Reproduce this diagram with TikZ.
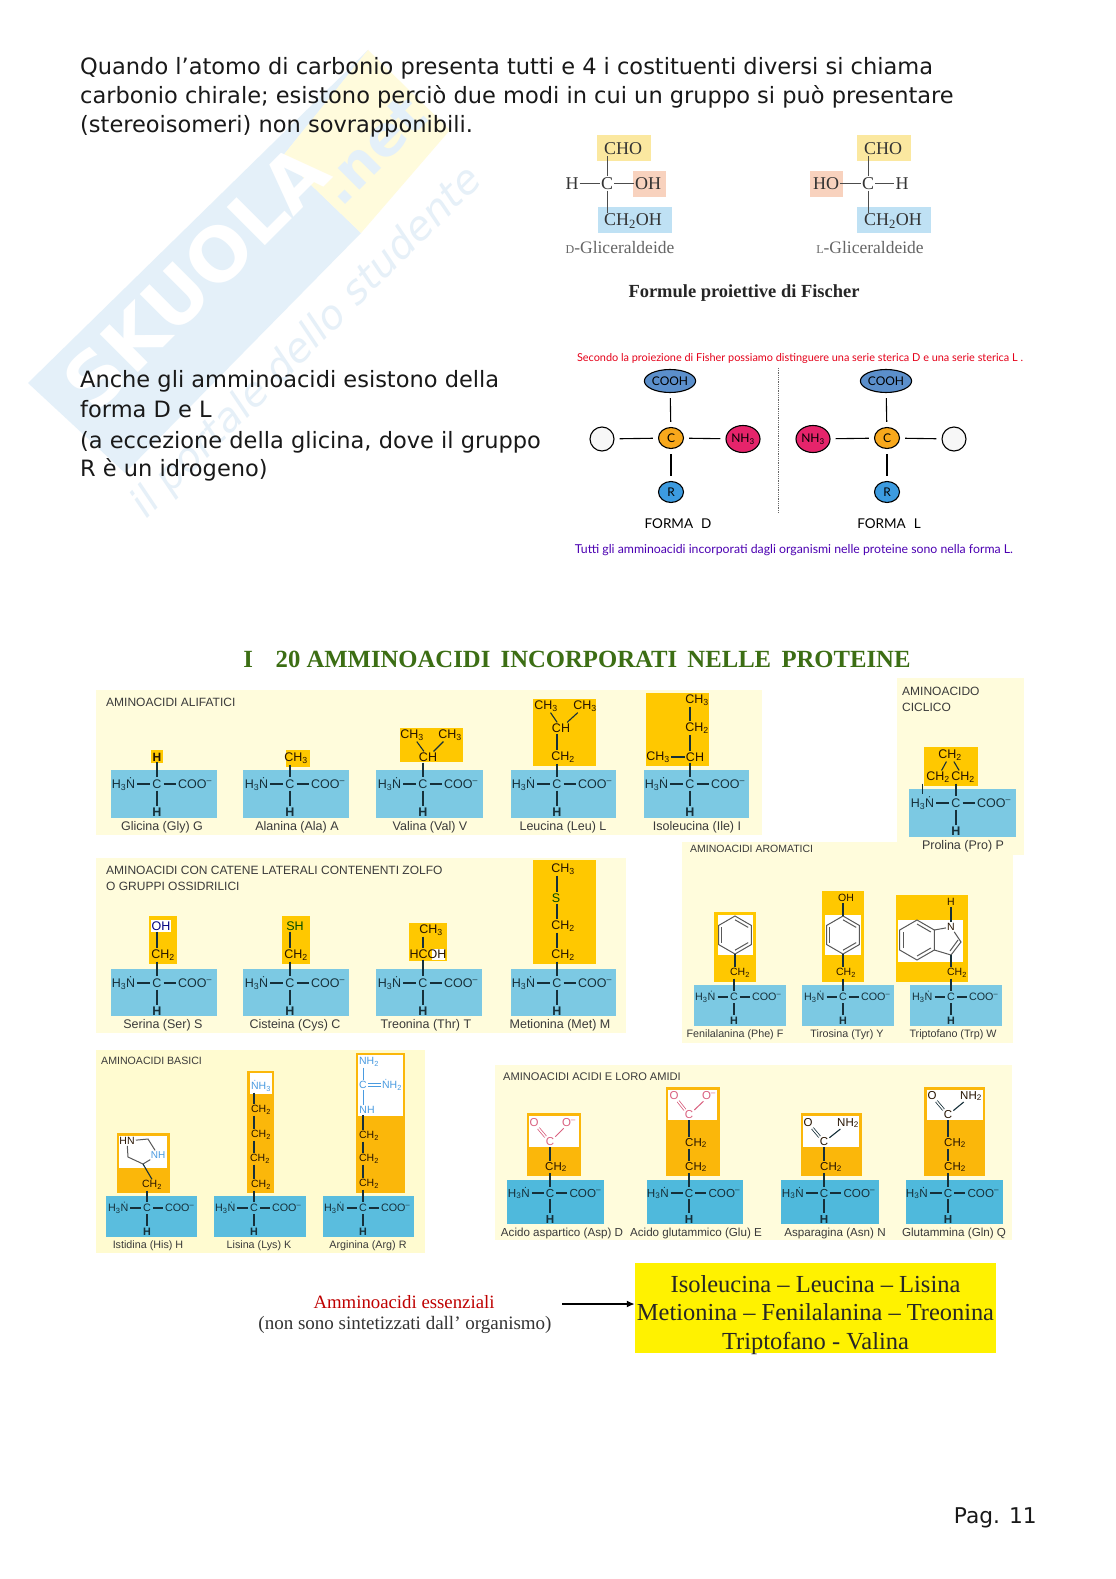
\documentclass[tikz,border=0pt]{standalone}
\usepackage{fontspec}
\usepackage{graphicx}
\setmainfont{Liberation Sans}
\newfontfamily\dejav{DejaVu Sans}
\newfontfamily\serifl{Liberation Serif}
\newfontfamily\comic{Lato}
\usetikzlibrary{shapes.geometric,arrows.meta}
\definecolor{panel}{HTML}{FFFCDC}
\definecolor{panelb}{HTML}{FFFBD0}
\definecolor{bluea}{HTML}{7CC9E3}
\definecolor{blueb}{HTML}{4FB9DC}
\definecolor{orangea}{HTML}{FFC800}
\definecolor{orangeb}{HTML}{FBB70A}
\definecolor{ink}{HTML}{16303A}
\definecolor{labelc}{HTML}{3A3A3A}
\definecolor{nblue}{HTML}{4A9BE0}
\definecolor{opink}{HTML}{D9607F}
\definecolor{wmblue}{HTML}{E4F0F9}
\definecolor{wmyellow}{HTML}{FFFBDC}
\definecolor{wmtext}{HTML}{E6F0F8}
\definecolor{chovell}{HTML}{FBE8A0}
\definecolor{ohbg}{HTML}{F8D2BE}
\definecolor{chbg}{HTML}{BFE1F4}
\definecolor{ttlgreen}{HTML}{3C6E14}
\tikzset{
 atom/.style={inner sep=2pt,text=ink,font=\fontsize{12}{12}\selectfont},
 grpt/.style={inner sep=1pt,text=black!85!orange,font=\fontsize{12.5}{12.5}\selectfont},
 nblu/.style={grpt,text=nblue},
 opk/.style={grpt,text=opink},
 bond/.style={draw=ink,line width=1.1pt},
 ring/.style={draw=black!65,line width=1pt},
 lab/.style={inner sep=0pt,text=labelc,font=\fontsize{12}{12}\selectfont},
 head/.style={inner sep=0pt,anchor=west,text=labelc,font=\fontsize{12}{13}\selectfont},
 body/.style={inner sep=0pt,anchor=west,font=\dejav\fontsize{22.5}{23}\selectfont,text=black!90},
 fis/.style={inner sep=1pt,font=\serifl\fontsize{18}{18}\selectfont,text=black!80},
 fisb/.style={draw=black!70,line width=.9pt},
 fcap/.style={inner sep=0pt,font=\serifl\fontsize{17.5}{17.5}\selectfont,text=black!60},
 ball/.style={ellipse,draw=black,line width=1.1pt,inner sep=0pt,font=\comic\fontsize{12}{12}\selectfont},
 fbond/.style={draw=black,line width=1.1pt},
 yel/.style={inner sep=0pt,font=\serifl\fontsize{24.5}{25}\selectfont,text=black!85},
}
\newcommand{\amino}[9]{%
 \pgfmathsetmacro\ut{#3-14*#6}\pgfmathsetmacro\ub{#3+#7}%
 \pgfmathsetmacro\xn{#2-33.5*#6}\pgfmathsetmacro\xo{#2+38*#6}%
 \pgfmathsetmacro\yh{#3+28*#6}\pgfmathsetmacro\yl{\ub+9}%
 \pgfmathsetmacro\fs{12.5*#6}%
 \fill[\bluefill] (#4,\ut) rectangle (#5,\ub);
 \node[atom,font=\fontsize{\fs}{\fs}\selectfont] (#1-n) at (\xn,#3) {H\textsubscript{3}\.N};
 \node[atom,font=\fontsize{\fs}{\fs}\selectfont] (#1-c) at (#2,#3) {C};
 \node[atom,font=\fontsize{\fs}{\fs}\selectfont] (#1-o) at (\xo,#3) {COO\textsuperscript{–}};
 \node[atom,font=\fontsize{\fs}{\fs}\selectfont\bfseries] (#1-h) at (#2,\yh) {H};
 \node[lab,font=\fontsize{\fs}{\fs}\selectfont] (#1-l) at (#8,\yl) {#9};
 \draw[bond] (#1-n) -- (#1-c);
 \draw[bond] (#1-c) -- (#1-o);
 \draw[bond] (#1-c) -- (#1-h);
}
\newcommand{\vb}[3]{\draw[bond] (#1.south -| #3.center) -- (#2.north -| #3.center);}
\newcommand{\benz}[3]{%
 \draw[ring] ([shift={(#1,#2)}]30:#3) -- ([shift={(#1,#2)}]90:#3) -- ([shift={(#1,#2)}]150:#3) -- ([shift={(#1,#2)}]210:#3) -- ([shift={(#1,#2)}]270:#3) -- ([shift={(#1,#2)}]330:#3) -- cycle;
 \foreach \a/\b in {30/90,150/210,270/330}{\draw[ring] ([shift={(#1,#2)}]\a:0.8*#3) -- ([shift={(#1,#2)}]\b:0.8*#3);}%
}
\newcommand{\bluefill}{bluea}
\begin{document}
\begin{tikzpicture}[x=1pt,y=-1pt]
\useasboundingbox[fill=white] (0,0) rectangle (1116,1579);
% watermark
\fill[wmblue] (28,383) -- (368,50) -- (282,157) -- (361,233) -- (125,473) -- cycle;
\fill[wmyellow] (368,50) -- (450,130) -- (361,233) -- (282,157) -- cycle;
\node[rotate=45,inner sep=0pt,text=white,font=\dejav\bfseries\fontsize{74}{74}\selectfont] (wmk) at (196,277) {SKUOLA};
\node[rotate=45,inner sep=0pt,text=wmblue,font=\dejav\bfseries\fontsize{56}{56}\selectfont] (wmn) at (372,150) {.net};
\node[rotate=45,inner sep=0pt,text=wmtext,font=\dejav\itshape\fontsize{40}{40}\selectfont] (wmt) at (307,343) {\resizebox{477pt}{!}{il portale dello studente}};
% top text
\node[body] (t1) at (80,68) {Quando l’atomo di carbonio presenta tutti e 4 i costituenti diversi si chiama};
\node[body] (t2) at (80,97) {carbonio chirale; esistono perciò due modi in cui un gruppo si può presentare};
\node[body] (t3) at (80,126) {(stereoisomeri) non sovrapponibili.};
\node[body] (t4) at (80,381) {Anche gli amminoacidi esistono della};
\node[body] (t5) at (80,409) {forma D e L};
\node[body] (t6) at (80,442) {(a eccezione della glicina, dove il gruppo};
\node[body] (t7) at (80,470) {R è un idrogeno)};
\node[body,anchor=east,font=\dejav\fontsize{21.7}{22}\selectfont] (pg) at (1037,1518) {Pag. 11};
% Fischer glyceraldehyde
\fill[chovell] (597,135) rectangle (651,161);
\fill[ohbg] (633,171) rectangle (666,197);
\fill[chbg] (598,207) rectangle (672,233);
\fill[chovell] (857,135) rectangle (911,161);
\fill[ohbg] (810,171) rectangle (843,197);
\fill[chbg] (857,207) rectangle (931,233);
\node[fis] (dcho) at (623,148.5) {CHO};
\node[fis] (dh) at (572,183.5) {H};
\node[fis] (dc) at (607,183.5) {C};
\node[fis] (doh) at (648,183.5) {OH};
\node[fis] (dch) at (633,221) {CH\textsubscript{2}OH};
\node[fis] (lcho) at (883,148.5) {CHO};
\node[fis] (lho) at (826,183.5) {HO};
\node[fis] (lc) at (868,183.5) {C};
\node[fis] (lh) at (902,183.5) {H};
\node[fis] (lch) at (893,221) {CH\textsubscript{2}OH};
\draw[fisb] (dh) -- (dc);\draw[fisb] (dc) -- (doh);
\draw[fisb] (dc) -- (dc |- dcho.south);\draw[fisb] (dc) -- (dc |- dch.north);
\draw[fisb] (lho) -- (lc);\draw[fisb] (lc) -- (lh);
\draw[fisb] (lc) -- (lc |- lcho.south);\draw[fisb] (lc) -- (lc |- lch.north);
\node[fcap] (dg) at (620,247.5) {{\fontsize{12}{12}\selectfont D}-Gliceraldeide};
\node[fcap] (lg) at (870,247.5) {{\fontsize{12}{12}\selectfont L}-Gliceraldeide};
\node[inner sep=0pt,font=\serifl\bfseries\fontsize{17}{17}\selectfont,text=black!85] (fpf) at (744,293) {\resizebox{231pt}{!}{Formule proiettive di Fischer}};
% D / L forms
\node[inner sep=0pt,text=red!60!purple,font=\comic] (c1) at (800,358) {\resizebox{446pt}{!}{Secondo la proiezione di Fisher possiamo distinguere una serie sterica D e una serie sterica L .}};
\node[inner sep=0pt,text=blue!60!purple,font=\comic] (c2) at (794,550) {\resizebox{438pt}{!}{Tutti gli amminoacidi incorporati dagli organismi nelle proteine sono nella forma L.}};
\coordinate (dv1) at (778,368);\coordinate (dv2) at (778,513);
\draw[black!60,densely dotted,line width=.8pt] (dv1) -- (dv2);
\definecolor{fb}{HTML}{5B8FCB}\definecolor{fo}{HTML}{F8A81C}\definecolor{fp}{HTML}{E6246B}\definecolor{fr}{HTML}{3C9BE0}
\node[ball,fill=fb,minimum width=48pt,minimum height=23pt] (dcooh) at (670,381) {COOH};
\node[ball,fill=fo,minimum width=25pt,minimum height=21pt] (dcc) at (671,438) {C};
\node[ball,fill=black!3,minimum width=24pt,minimum height=24pt] (dw) at (602,439) {};
\node[ball,fill=fp,minimum width=34pt,minimum height=27pt] (dnh) at (743,439) {NH\textsubscript{3}};
\node[ball,fill=fr,minimum width=25pt,minimum height=21pt] (dr) at (671,492) {R};
\node[ball,fill=fb,minimum width=48pt,minimum height=23pt] (lcooh) at (886,381) {COOH};
\node[ball,fill=fo,minimum width=25pt,minimum height=21pt] (lcc) at (887,438) {C};
\node[ball,fill=black!3,minimum width=24pt,minimum height=24pt] (lw) at (954,439) {};
\node[ball,fill=fp,minimum width=34pt,minimum height=27pt] (lnh) at (813,439) {NH\textsubscript{3}};
\node[ball,fill=fr,minimum width=25pt,minimum height=21pt] (lr) at (887,492) {R};
\foreach \a/\b in {dcc/dcooh,dcc/dw,dcc/dnh,dcc/dr,lcc/lcooh,lcc/lw,lcc/lnh,lcc/lr}{
 \draw[fbond,shorten >=5pt,shorten <=5pt] (\a) -- (\b);}
\node[inner sep=0pt,font=\comic\fontsize{13.5}{14}\selectfont] (fd) at (678,524) {FORMA\,\, D};
\node[inner sep=0pt,font=\comic\fontsize{13.5}{14}\selectfont] (fl) at (889,524) {FORMA\,\, L};
% title
\node[inner sep=0pt,text=ttlgreen,font=\serifl\bfseries] (ttl) at (577,659) {\resizebox{667pt}{!}{I\enspace\, 20 AMMINOACIDI\, INCORPORATI\, NELLE\, PROTEINE}};
% panels
\fill[panel] (96,690) rectangle (762,835);
\fill[panel] (96,858) rectangle (626,1033);
\fill[panel] (682,842) rectangle (1013,1043);
\fill[panel] (897,678) rectangle (1024,855);
\fill[panelb] (96,1050) rectangle (425,1253);
\fill[panel] (495,1065) rectangle (1012,1240);
\node[head] (h1) at (106,702) {AMINOACIDI ALIFATICI};
\node[head] (h2) at (106,870) {AMINOACIDI CON CATENE LATERALI CONTENENTI ZOLFO};
\node[head] (h2b) at (106,886) {O GRUPPI OSSIDRILICI};
\node[head] (h3) at (902,691) {AMINOACIDO};
\node[head] (h3b) at (902,707) {CICLICO};
\node[head,font=\fontsize{10.5}{12}\selectfont] (h4) at (690,849) {AMINOACIDI AROMATICI};
\node[head,font=\fontsize{10.6}{12}\selectfont] (h5) at (101,1061) {AMINOACIDI BASICI};
\node[head,font=\fontsize{11.1}{12}\selectfont] (h6) at (503,1077) {AMINOACIDI ACIDI E LORO AMIDI};
% --- row 1 orange
\fill[orangea] (151,750) rectangle (163,763);
\fill[orangea] (286,750) rectangle (310,767);
\fill[orangea] (400,728) rectangle (463,762);
\fill[orangea] (533,699) rectangle (596,766);
\fill[orangea] (646,693) rectangle (709,766);
\amino{gly}{157}{784}{111}{217}{1}{34}{162}{Glicina (Gly) G}
\amino{ala}{290}{784}{243}{349}{1}{34}{297}{Alanina (Ala) A}
\amino{val}{423}{784}{376}{483}{1}{34}{430}{Valina (Val) V}
\amino{leu}{557}{784}{511}{616}{1}{34}{563}{Leucina (Leu) L}
\amino{ile}{690}{784}{644}{749}{1}{34}{697}{Isoleucina (Ile) I}
\node[grpt,font=\fontsize{12}{12}\selectfont\bfseries] (g1) at (157,757) {H};
\vb{g1}{gly-c}{gly-c}
\node[grpt] (a1) at (296,758) {CH\textsubscript{3}};
\vb{a1}{ala-c}{ala-c}
\node[grpt] (v1) at (412,735) {CH\textsubscript{3}};
\node[grpt] (v2) at (450,735) {CH\textsubscript{3}};
\node[grpt] (v3) at (428,757) {CH};
\draw[bond] (v1) -- (v3);\draw[bond] (v2) -- (v3);\vb{v3}{val-c}{val-c}
\node[grpt] (l1) at (546,706) {CH\textsubscript{3}};
\node[grpt] (l2) at (585,706) {CH\textsubscript{3}};
\node[grpt] (l3) at (561,728) {CH};
\node[grpt] (l4) at (563,757) {CH\textsubscript{2}};
\draw[bond] (l1) -- (l3);\draw[bond] (l2) -- (l3);\vb{l3}{l4}{leu-c}\vb{l4}{leu-c}{leu-c}
\node[grpt] (i1) at (697,700) {CH\textsubscript{3}};
\node[grpt] (i2) at (697,728) {CH\textsubscript{2}};
\node[grpt] (i3) at (695,757) {CH};
\node[grpt] (i4) at (658,757) {CH\textsubscript{3}};
\vb{i1}{i2}{ile-c}\vb{i2}{i3}{ile-c}\vb{i3}{ile-c}{ile-c}
\draw[bond] (i4) -- (i3);
% --- row 2
\fill[orangea] (149,916) rectangle (177,964);
\fill[orangea] (282,916) rectangle (310,964);
\fill[orangea] (409,923) rectangle (447,961);
\fill[orangea] (533,860) rectangle (596,964);
\amino{ser}{157}{983}{111}{217}{1}{33}{163}{Serina (Ser) S}
\amino{cys}{290}{983}{243}{349}{1}{33}{295}{Cisteina (Cys) C}
\amino{thr}{423}{983}{376}{482}{1}{33}{426}{Treonina (Thr) T}
\amino{met}{557}{983}{511}{616}{1}{33}{560}{Metionina (Met) M}
\fill[white] (151,920) rectangle (171,932);
\node[grpt,text=blue!50!black] (s1) at (161,926) {OH};
\node[grpt] (s2) at (163,955) {CH\textsubscript{2}};
\vb{s1}{s2}{ser-c}\vb{s2}{ser-c}{ser-c}
\node[grpt,text=black!70!green] (c1a) at (295,926) {SH};
\node[grpt] (c2a) at (296,955) {CH\textsubscript{2}};
\vb{c1a}{c2a}{cys-c}\vb{c2a}{cys-c}{cys-c}
\fill[white] (432,949) rectangle (445,960);
\node[grpt] (th1) at (431,930) {CH\textsubscript{3}};
\node[grpt] (th2) at (428,954) {HCOH};
\vb{th1}{th2}{thr-c}\vb{th2}{thr-c}{thr-c}
\node[grpt] (m1) at (563,869) {CH\textsubscript{3}};
\node[grpt,text=black!70!green] (m2) at (556,898) {S};
\node[grpt] (m3) at (563,926) {CH\textsubscript{2}};
\node[grpt] (m4) at (563,955) {CH\textsubscript{2}};
\vb{m1}{m2}{met-c}\vb{m2}{m3}{met-c}\vb{m3}{m4}{met-c}\vb{m4}{met-c}{met-c}
% --- proline
\fill[orangea] (924,747) rectangle (978,786);
\amino{pro}{956}{803}{909}{1016}{1}{34}{963}{Prolina (Pro) P}
\node[grpt] (p1) at (950,755) {CH\textsubscript{2}};
\node[grpt] (p2) at (938,777) {CH\textsubscript{2}};
\node[grpt] (p3) at (963,777) {CH\textsubscript{2}};
\draw[bond] (p1) -- (p2);\draw[bond] (p1) -- (p3);
\vb{p3}{pro-c}{pro-c}
\draw[bond] (p2.south -| pro-n.north) -- (pro-n.north);
% --- aromatic
\renewcommand{\bluefill}{bluea}
\fill[orangea] (714,912) rectangle (756,982);
\fill[white] (718,915) rectangle (753,955);
\fill[orangea] (822,891) rectangle (864,982);
\fill[white] (825,915) rectangle (861,955);
\fill[orangea] (896,895) rectangle (968,982);
\fill[white] (898,920) rectangle (963,962);
\amino{phe}{734}{997}{694}{786}{.86}{29}{735}{Fenilalanina (Phe) F}
\amino{tyr}{843}{997}{802}{894}{.86}{29}{847}{Tirosina (Tyr) Y}
\amino{trp}{951}{997}{910}{1002}{.86}{29}{953}{Triptofano (Trp) W}
\tikzset{grpt/.append style={font=\fontsize{10.5}{10.5}\selectfont}}
\benz{735}{935}{19}
\node[grpt] (f1) at (740,973) {CH\textsubscript{2}};
\coordinate (f0) at (735,954);
\draw[bond] (f0) -- (f0 |- f1.north);\vb{f1}{phe-c}{phe-c}
\benz{843}{935}{19}
\node[grpt] (y0) at (846,898) {OH};
\coordinate (y1) at (843,916);\coordinate (y2) at (843,954);
\node[grpt] (y3) at (846,973) {CH\textsubscript{2}};
\draw[bond] (y0.south -| y1) -- (y1);\draw[bond] (y2) -- (y2 |- y3.north);\vb{y3}{tyr-c}{tyr-c}
\benz{917}{940}{20}
\coordinate (w1) at (934.3,930);\coordinate (w2) at (934.3,950);
\node[grpt] (wn) at (951,927) {N};
\node[grpt] (wh) at (951,902) {H};
\coordinate (w3) at (961,942);\coordinate (w4) at (951,955);
\node[grpt] (w5) at (957,973) {CH\textsubscript{2}};
\draw[ring] (w1) -- (wn) -- (w3) -- (w4) -- (w2);
\draw[ring] (958,940) -- (950,951);
\draw[bond] (wh) -- (wn);
\draw[bond] (w4) -- (w4 |- w5.north);\vb{w5}{trp-c}{trp-c}
% --- basic
\renewcommand{\bluefill}{blueb!75!bluea}
\fill[orangeb] (117,1133) rectangle (170,1193);
\fill[white] (119,1136) rectangle (167,1168);
\fill[orangeb] (247,1071) rectangle (274,1193);
\fill[white] (250,1073) rectangle (272,1094);
\fill[orangeb] (356,1053) rectangle (405,1193);
\fill[white] (358,1055) rectangle (403,1116);
\amino{his}{147}{1208}{106}{197}{.86}{29}{148}{Istidina (His) H}
\amino{lys}{254}{1208}{214}{306}{.86}{29}{259}{Lisina (Lys) K}
\amino{arg}{363}{1208}{323}{414}{.86}{29}{368}{Arginina (Arg) R}
\node[grpt] (h1a) at (127,1141) {HN};
\node[nblu,font=\fontsize{10}{10}\selectfont] (h2a) at (158,1155) {NH};
\coordinate (h3a) at (148,1139);\coordinate (h4a) at (143,1164);\coordinate (h5a) at (128,1157);
\draw[ring] (h1a) -- (h3a) -- (h2a) -- (h4a) -- (h5a) -- (h1a);
\node[grpt] (h6a) at (152,1185) {CH\textsubscript{2}};
\draw[bond] (h4a) -- (h6a.north);\vb{h6a}{his-c}{his-c}
\node[nblu,font=\fontsize{10.5}{10.5}\selectfont] (k0) at (261,1086) {\.NH\textsubscript{3}};
\node[grpt] (k1) at (261,1110) {CH\textsubscript{2}};
\node[grpt] (k2) at (261,1135) {CH\textsubscript{2}};
\node[grpt] (k3) at (260,1159) {CH\textsubscript{2}};
\node[grpt] (k4) at (261,1185) {CH\textsubscript{2}};
\vb{k0}{k1}{lys-c}\vb{k1}{k2}{lys-c}\vb{k2}{k3}{lys-c}\vb{k3}{k4}{lys-c}\vb{k4}{lys-c}{lys-c}
\node[nblu,font=\fontsize{10.5}{10.5}\selectfont] (r1) at (369,1062) {NH\textsubscript{2}};
\node[nblu,font=\fontsize{10.5}{10.5}\selectfont] (r2) at (363,1085) {C};
\node[nblu,font=\fontsize{10.5}{10.5}\selectfont] (r3) at (392,1085) {\.NH\textsubscript{2}};
\node[nblu,font=\fontsize{10.5}{10.5}\selectfont] (r4) at (367,1110) {NH};
\node[grpt] (r5) at (369,1136) {CH\textsubscript{2}};
\node[grpt] (r6) at (369,1159) {CH\textsubscript{2}};
\node[grpt] (r7) at (369,1184) {CH\textsubscript{2}};
\draw[draw=nblue,line width=.9pt] (r1.south -| r2) -- (r2);
\draw[draw=nblue,line width=.9pt] (r2) -- (r4.north -| r2);
\draw[draw=nblue,line width=.9pt] ([yshift=-1.5pt]r2.east) -- ([yshift=-1.5pt]r3.west);
\draw[draw=nblue,line width=.9pt] ([yshift=1.5pt]r2.east) -- ([yshift=1.5pt]r3.west);
\vb{r4}{r5}{arg-c}\vb{r5}{r6}{arg-c}\vb{r6}{r7}{arg-c}\vb{r7}{arg-c}{arg-c}
% --- acids
\renewcommand{\bluefill}{blueb}
\fill[orangeb] (527,1113) rectangle (581,1176);
\fill[white] (529,1116) rectangle (579,1147);
\fill[orangeb] (666,1087) rectangle (720,1176);
\fill[white] (668,1090) rectangle (717,1120);
\fill[orangeb] (801,1113) rectangle (862,1176);
\fill[white] (803,1116) rectangle (859,1147);
\fill[orangeb] (924,1087) rectangle (985,1176);
\fill[white] (927,1090) rectangle (983,1120);
\amino{asp}{550}{1193}{507}{604}{.93}{31}{562}{Acido aspartico (Asp) D}
\amino{glu}{689}{1193}{647}{743}{.93}{31}{696}{Acido glutammico (Glu) E}
\amino{asn}{824}{1193}{781}{879}{.93}{31}{835}{Asparagina (Asn) N}
\amino{gln}{948}{1193}{906}{1003}{.93}{31}{954}{Glutammina (Gln) Q}
\tikzset{grpt/.append style={font=\fontsize{11.5}{11.5}\selectfont}}
\tikzset{opk/.append style={font=\fontsize{11.5}{11.5}\selectfont}}
\tikzset{dbl/.style={line width=.8pt,double,double distance=1.4pt}}
\node[opk] (d1) at (534,1123) {O};
\node[opk] (d2) at (569,1123) {O\textsuperscript{–}};
\node[opk] (d3) at (550,1142) {C};
\node[grpt] (d4) at (556,1167) {CH\textsubscript{2}};
\draw[draw=opink,dbl] (d1) -- (d3);\draw[draw=opink,line width=1pt] (d2) -- (d3);
\vb{d3}{d4}{asp-c}\vb{d4}{asp-c}{asp-c}
\node[opk] (e1) at (674,1096) {O};
\node[opk] (e2) at (709,1096) {O\textsuperscript{–}};
\node[opk] (e3) at (689,1115) {C};
\node[grpt] (e4) at (696,1143) {CH\textsubscript{2}};
\node[grpt] (e5) at (696,1167) {CH\textsubscript{2}};
\draw[draw=opink,dbl] (e1) -- (e3);\draw[draw=opink,line width=1pt] (e2) -- (e3);
\vb{e3}{e4}{glu-c}\vb{e4}{e5}{glu-c}\vb{e5}{glu-c}{glu-c}
\node[grpt] (n1) at (808,1123) {O};
\node[grpt] (n2) at (848,1123) {NH\textsubscript{2}};
\node[grpt] (n3) at (824,1142) {C};
\node[grpt] (n4) at (831,1167) {CH\textsubscript{2}};
\draw[draw=ink,dbl] (n1) -- (n3);\draw[bond] (n2) -- (n3);
\vb{n3}{n4}{asn-c}\vb{n4}{asn-c}{asn-c}
\node[grpt] (q1) at (932,1096) {O};
\node[grpt] (q2) at (971,1096) {NH\textsubscript{2}};
\node[grpt] (q3) at (948,1115) {C};
\node[grpt] (q4) at (955,1143) {CH\textsubscript{2}};
\node[grpt] (q5) at (955,1167) {CH\textsubscript{2}};
\draw[draw=ink,dbl] (q1) -- (q3);\draw[bond] (q2) -- (q3);
\vb{q3}{q4}{gln-c}\vb{q4}{q5}{gln-c}\vb{q5}{gln-c}{gln-c}
% --- essential
\node[inner sep=0pt,text=red!75!black,font=\serifl] (ess) at (404,1302) {\resizebox{181pt}{!}{Amminoacidi essenziali}};
\node[inner sep=0pt,text=black!80,font=\serifl] (ess2) at (405,1325) {\resizebox{293pt}{!}{(non sono sintetizzati dall’ organismo)}};
\node[fill=yellow,inner sep=0pt,minimum width=361pt,minimum height=90pt] (yb) at (815.5,1308) {};
\node[yel] (y1t) at (815.5,1284.5) {Isoleucina – Leucina – Lisina};
\node[yel] (y2t) at (815.5,1312.5) {\resizebox{357pt}{!}{Metionina – Fenilalanina – Treonina}};
\node[yel] (y3t) at (815.5,1343) {Triptofano - Valina};
\coordinate (ar0) at (562,1304);
\draw[black,line width=1.6pt,-{Latex[length=8pt,width=7pt]}] (ar0) -- (yb.west |- ar0);
\end{tikzpicture}
\end{document}
